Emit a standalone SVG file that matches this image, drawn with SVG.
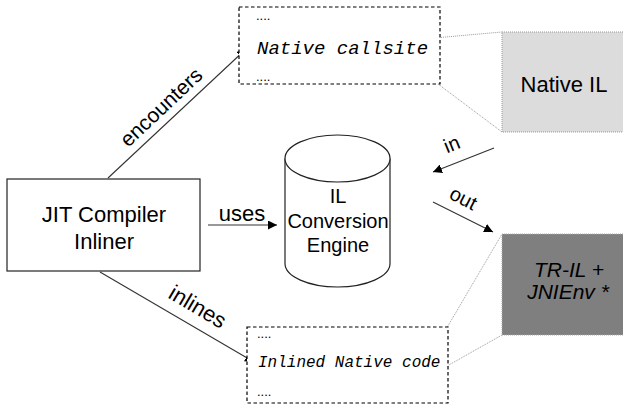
<svg xmlns="http://www.w3.org/2000/svg" width="623" height="407" viewBox="0 0 623 407">
<defs>
<marker id="ah" viewBox="0 0 10 10" refX="10" refY="5" markerWidth="9" markerHeight="9" markerUnits="userSpaceOnUse" orient="auto">
<path d="M0,0 L10,5 L0,10 z" fill="#000"/>
</marker>
</defs>
<style>
.sans{font-family:"Liberation Sans",Arial,sans-serif;fill:#000}
.mono{font-family:"Liberation Mono","Courier New",monospace;font-style:italic;fill:#000}
.dots{font-family:"Liberation Sans",Arial,sans-serif;font-size:13px;fill:#000}
.dash{fill:#fff;stroke:#000;stroke-width:1.2;stroke-dasharray:3.5,2.5}
.edge{stroke:#333;stroke-width:1.1;fill:none;marker-end:url(#ah)}
.dot{stroke:#999;stroke-width:1;stroke-dasharray:1,1;fill:none}
</style>
<rect width="623" height="407" fill="#fff"/>

<g id="connectors">
<line class="edge" x1="108" y1="178" x2="246" y2="49"/>
<line class="edge" x1="208" y1="225" x2="277" y2="225"/>
<line class="edge" x1="100" y1="272" x2="254" y2="362"/>
<line class="edge" x1="494" y1="148" x2="433" y2="172"/>
<line class="edge" x1="433" y1="202" x2="493" y2="232"/>
<line class="dot" x1="423" y1="39" x2="502" y2="32"/>
<line class="dot" x1="410" y1="63" x2="502" y2="132"/>
<line class="dot" x1="425" y1="365" x2="502" y2="234"/>
<line class="dot" x1="440" y1="370" x2="502" y2="335"/>
<text class="sans" font-size="21" text-anchor="middle" transform="translate(162,108) rotate(-43.3)" y="6">encounters</text>
<text class="sans" font-size="22" x="242" y="221" text-anchor="middle">uses</text>
<text class="sans" font-size="22" text-anchor="middle" transform="translate(197,308) rotate(30.5)" y="6">inlines</text>
<text class="sans" font-size="20" text-anchor="middle" transform="translate(452,145) rotate(-22)" y="6">in</text>
<text class="sans" font-size="20" text-anchor="middle" transform="translate(463,199) rotate(27)" y="6">out</text>
</g>

<g id="callsite">
<rect class="dash" x="239" y="7" width="201" height="77"/>
<text class="dots" x="256" y="20">....</text>
<text class="mono" font-size="19" x="257" y="54">Native callsite</text>
<text class="dots" x="256" y="81">....</text>
</g>

<g id="inlined">
<rect class="dash" x="247" y="327" width="201" height="76"/>
<text class="dots" x="257" y="338">....</text>
<text class="mono" font-size="16" x="258" y="367">Inlined Native code</text>
<text class="dots" x="257" y="396">....</text>
</g>

<g id="nativeil">
<rect x="502" y="32" width="130" height="100" fill="#dcdcdc" stroke="#999" stroke-width="1" stroke-dasharray="1,1"/>
<text class="sans" font-size="22" x="564" y="92" text-anchor="middle">Native IL</text>
</g>

<g id="tril">
<rect x="502" y="234" width="130" height="101" fill="#7f7f7f" stroke="#aaa" stroke-width="1" stroke-dasharray="1,1"/>
<text class="sans" font-size="21" font-style="italic" x="569" y="277" text-anchor="middle">TR-IL +</text>
<text class="sans" font-size="21" font-style="italic" x="568" y="299" text-anchor="middle">JNIEnv *</text>
</g>

<g id="jit">
<rect x="7" y="179" width="193" height="92" fill="#fff" stroke="#222" stroke-width="1.2"/>
<text class="sans" font-size="22" x="104" y="222" text-anchor="middle">JIT Compiler</text>
<text class="sans" font-size="22" x="104" y="249" text-anchor="middle">Inliner</text>
</g>

<g id="engine">
<path d="M285,158.5 L285,263.5 A52.5,23.5 0 0 0 390,263.5 L390,158.5" fill="#fff" stroke="#222" stroke-width="1.2"/>
<ellipse cx="337.5" cy="158.5" rx="52.5" ry="23.5" fill="#fff" stroke="#222" stroke-width="1.2"/>
<text class="sans" font-size="20" x="338" y="203" text-anchor="middle">IL</text>
<text class="sans" font-size="20" x="338" y="228" text-anchor="middle">Conversion</text>
<text class="sans" font-size="20" x="338" y="252" text-anchor="middle">Engine</text>
</g>
</svg>
